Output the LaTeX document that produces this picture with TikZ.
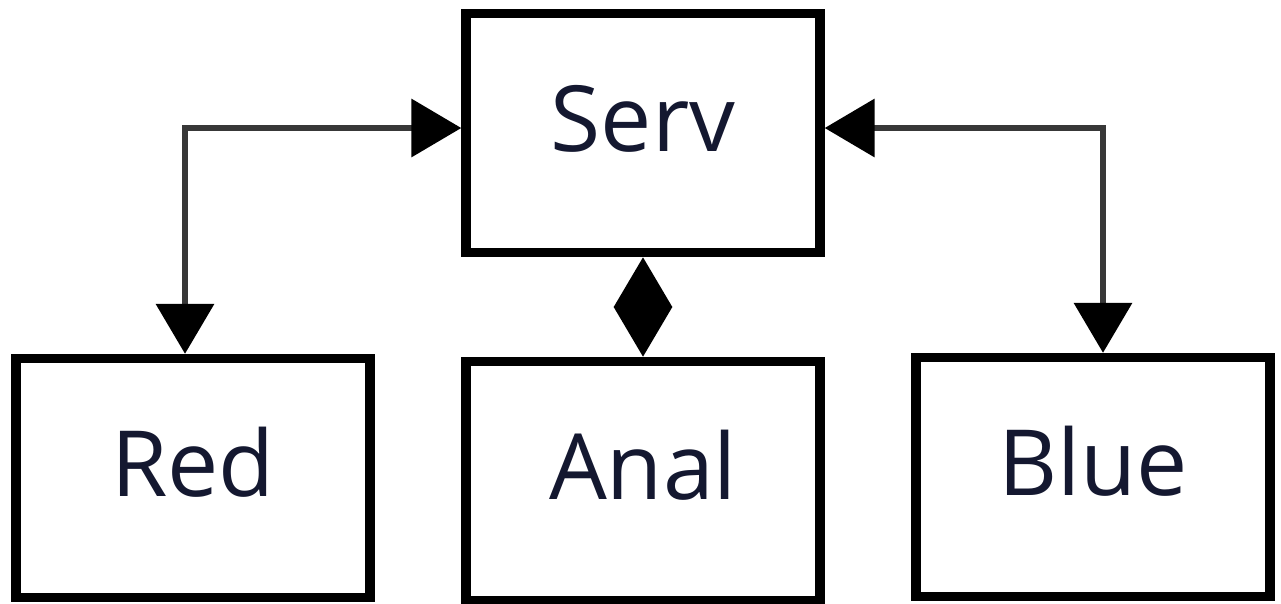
\documentclass[tikz,border=0pt]{standalone}
\usepackage{fontspec}
\setmainfont{Open Sans}
\usetikzlibrary{arrows.meta}
\definecolor{inktext}{HTML}{141830}
\tikzset{>={Triangle[length=1cm,width=1.15cm,color=black]},
  box/.style={draw=black, line width=0.19cm, minimum width=7.08cm, minimum height=4.78cm,
    inner sep=0pt, text=inktext, font=\fontsize{52}{60}\selectfont,
    text height=1.34cm, text depth=0.62cm},
  link/.style={black!78, line width=0.11cm}}

\begin{document}
\begin{tikzpicture}[x=0.02cm, y=-0.02cm]
    \useasboundingbox (0,0) rectangle (1281,603);
    \node[box] (serv) at (643,133) {Serv};
    \node[box] (red) at (193,478) {Red};
    \node[box] (anal) at (643,481) {Anal};
    \node[box] (blue) at (1093,477) {Blue};
    \draw[link,<->] ([yshift=0.1cm]serv.west) -| ([xshift=-0.16cm]red.north);
    \draw[link,<->] ([yshift=0.1cm]serv.east) -| ([xshift=0.2cm]blue.north);
    \draw[link,<->] (serv.south) -- (anal.north);
\end{tikzpicture}
\end{document}
